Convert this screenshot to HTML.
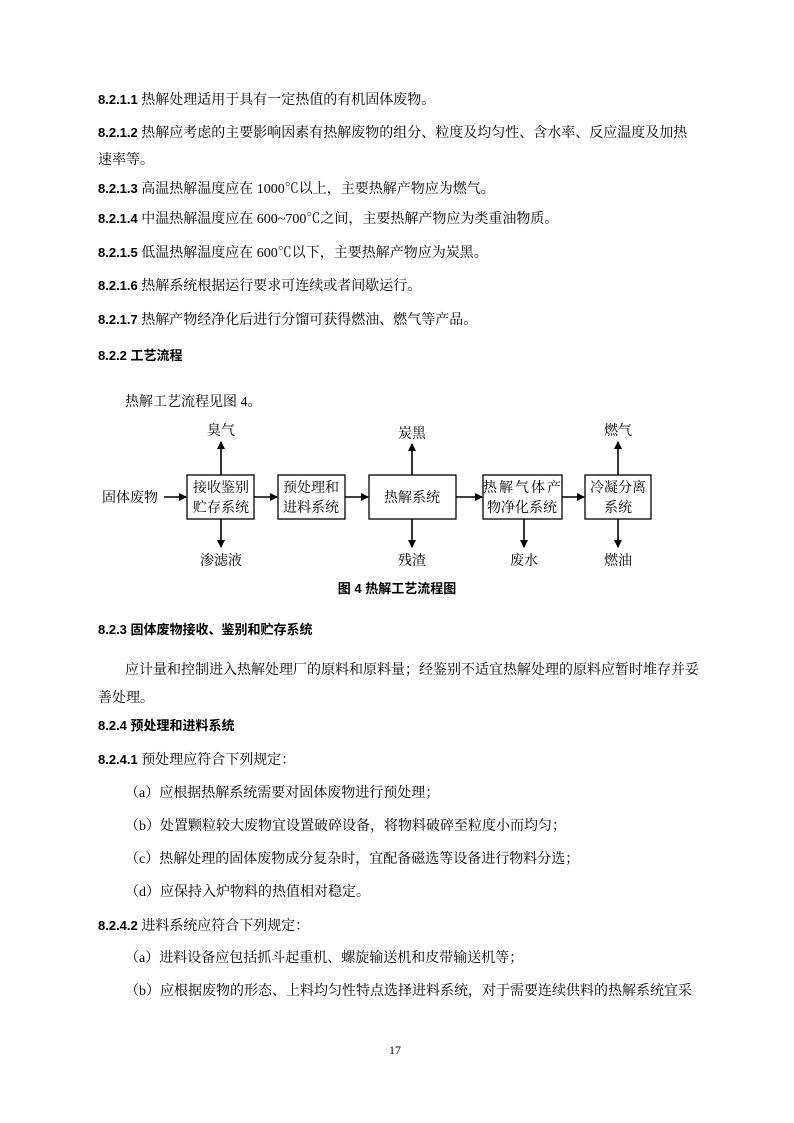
<!DOCTYPE html>
<html><head><meta charset="utf-8"><style>
body{margin:0;background:#fff;}
.p{position:relative;width:794px;height:1123px;font-family:"Liberation Serif","Noto Serif CJK SC","Noto Sans CJK SC",serif;font-size:14px;color:#000;}
.l{position:absolute;white-space:nowrap;line-height:16px;}
.n{font-family:"Liberation Sans","Noto Sans CJK SC",sans-serif;font-weight:bold;font-size:13px;}
.h{font-family:"Liberation Sans","Noto Sans CJK SC",sans-serif;font-weight:bold;font-size:13px;}
svg text{font-family:"Liberation Serif","Noto Serif CJK SC",serif;font-size:14px;}
</style></head><body><div class="p">
<div class="l" style="left:98px;top:92px"><span class="n">8.2.1.1</span> 热解处理适用于具有一定热值的有机固体废物。</div>
<div class="l" style="left:98px;top:125px"><span class="n">8.2.1.2</span> 热解应考虑的主要影响因素有热解废物的组分、粒度及均匀性、含水率、反应温度及加热</div>
<div class="l" style="left:98px;top:153px">速率等。</div>
<div class="l" style="left:98px;top:181px"><span class="n">8.2.1.3</span> 高温热解温度应在 1000℃以上，主要热解产物应为燃气。</div>
<div class="l" style="left:98px;top:211px"><span class="n">8.2.1.4</span> 中温热解温度应在 600~700℃之间，主要热解产物应为类重油物质。</div>
<div class="l" style="left:98px;top:245px"><span class="n">8.2.1.5</span> 低温热解温度应在 600℃以下，主要热解产物应为炭黑。</div>
<div class="l" style="left:98px;top:278px"><span class="n">8.2.1.6</span> 热解系统根据运行要求可连续或者间歇运行。</div>
<div class="l" style="left:98px;top:312px"><span class="n">8.2.1.7</span> 热解产物经净化后进行分馏可获得燃油、燃气等产品。</div>
<div class="l h" style="left:98px;top:348px">8.2.2 工艺流程</div>
<div class="l" style="left:125px;top:395px">热解工艺流程见图 4。</div>
<svg style="position:absolute;left:0;top:0" width="794" height="620">
<defs><marker id="a" markerWidth="8" markerHeight="8" refX="7" refY="4" orient="auto" markerUnits="userSpaceOnUse"><path d="M0,0L8,4L0,8z" fill="#000"/></marker></defs>
<g fill="none" stroke="#000" stroke-width="1.3">
<rect x="187" y="475" width="67" height="44"/>
<rect x="278" y="475" width="67" height="44"/>
<rect x="369" y="475" width="87" height="44"/>
<rect x="483" y="475" width="79" height="44"/>
<rect x="585" y="475" width="66" height="44"/>
<g stroke-width="1.6" marker-end="url(#a)">
<line x1="164" y1="497" x2="186" y2="497"/>
<line x1="254" y1="497" x2="277" y2="497"/>
<line x1="345" y1="497" x2="368" y2="497"/>
<line x1="456" y1="497" x2="482" y2="497"/>
<line x1="562" y1="497" x2="584" y2="497"/>
<line x1="221" y1="475" x2="221" y2="442"/>
<line x1="412" y1="475" x2="412" y2="444"/>
<line x1="618" y1="475" x2="618" y2="442"/>
<line x1="221" y1="519" x2="221" y2="547"/>
<line x1="412" y1="519" x2="412" y2="547"/>
<line x1="524" y1="519" x2="524" y2="547"/>
<line x1="618" y1="519" x2="618" y2="547"/>
</g></g>
<g text-anchor="middle">
<text x="221" y="435">臭气</text>
<text x="412" y="438">炭黑</text>
<text x="618" y="435">燃气</text>
<text x="221" y="565">渗滤液</text>
<text x="412" y="565">残渣</text>
<text x="524" y="565">废水</text>
<text x="618" y="565">燃油</text>
<text x="130" y="502">固体废物</text>
<text x="221" y="492">接收鉴别</text>
<text x="221" y="512">贮存系统</text>
<text x="311" y="492">预处理和</text>
<text x="311" y="512">进料系统</text>
<text x="412" y="502">热解系统</text>
<text x="522" y="492" textLength="78" lengthAdjust="spacing">热解气体产</text>
<text x="522" y="512">物净化系统</text>
<text x="618" y="492">冷凝分离</text>
<text x="618" y="512">系统</text>
<text x="397" y="593" font-weight="bold" style="font-family:'Liberation Sans','Noto Sans CJK SC',sans-serif;font-size:13px">图 4 热解工艺流程图</text>
</g></svg>
<div class="l h" style="left:98px;top:622px">8.2.3 固体废物接收、鉴别和贮存系统</div>
<div class="l" style="left:125px;top:663px">应计量和控制进入热解处理厂的原料和原料量；经鉴别不适宜热解处理的原料应暂时堆存并妥</div>
<div class="l" style="left:98px;top:691px">善处理。</div>
<div class="l h" style="left:98px;top:718px">8.2.4 预处理和进料系统</div>
<div class="l" style="left:98px;top:752px"><span class="n">8.2.4.1</span> 预处理应符合下列规定：</div>
<div class="l" style="left:125px;top:786px">（a）应根据热解系统需要对固体废物进行预处理；</div>
<div class="l" style="left:125px;top:819px">（b）处置颗粒较大废物宜设置破碎设备，将物料破碎至粒度小而均匀；</div>
<div class="l" style="left:125px;top:852px">（c）热解处理的固体废物成分复杂时，宜配备磁选等设备进行物料分选；</div>
<div class="l" style="left:125px;top:885px">（d）应保持入炉物料的热值相对稳定。</div>
<div class="l" style="left:98px;top:918px"><span class="n">8.2.4.2</span> 进料系统应符合下列规定：</div>
<div class="l" style="left:125px;top:951px">（a）进料设备应包括抓斗起重机、螺旋输送机和皮带输送机等；</div>
<div class="l" style="left:125px;top:984px">（b）应根据废物的形态、上料均匀性特点选择进料系统，对于需要连续供料的热解系统宜采</div>
<div class="l" style="left:389px;top:1042px;font-size:12px">17</div>
</div></body></html>
